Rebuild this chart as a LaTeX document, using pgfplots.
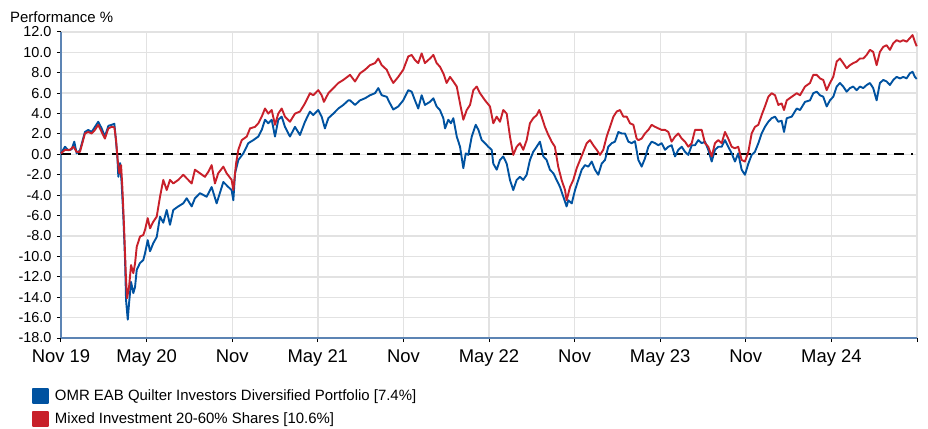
\documentclass[border=0pt]{standalone}
\usepackage{fontspec}
\setmainfont{Liberation Sans}
\usepackage{pgfplots}
\usepackage{pgfplotstable}
\pgfplotsset{compat=1.18}
\definecolor{cblue}{RGB}{0,82,160}
\definecolor{cred}{RGB}{200,32,42}
\definecolor{spine}{RGB}{92,132,180}
\definecolor{gridc}{RGB}{226,226,226}
\pgfplotstableread{
m v
0 0.1
0.28 0.75
0.51 0.4
0.75 0.5
0.93 1.25
1.10 0.1
1.33 0.4
1.68 2.2
1.91 2.4
2.15 2.2
2.38 2.7
2.61 3.2
2.85 2.55
3.08 1.75
3.32 2.8
3.55 2.9
3.74 3.0
3.83 1.7
3.95 -0.2
4.02 -2.2
4.14 -0.85
4.25 -2.8
4.37 -6.1
4.49 -10.35
4.56 -14.3
4.68 -16.2
4.77 -14.6
4.91 -12.5
5.07 -13.6
5.19 -13.0
5.31 -11.3
5.54 -10.65
5.77 -10.35
5.89 -9.7
6.08 -8.4
6.24 -9.5
6.47 -8.7
6.71 -8.1
6.94 -6.1
7.17 -6.7
7.41 -5.45
7.64 -6.9
7.87 -5.45
8.22 -5.1
8.57 -4.8
8.81 -4.3
9.16 -5.1
9.39 -4.3
9.74 -3.8
10.21 -4.15
10.56 -3.2
10.91 -4.8
11.38 -2.7
11.73 -3.2
11.96 -3.5
12.08 -4.5
12.20 -1.85
12.43 -0.55
12.78 0.1
13.13 1.1
13.48 1.4
13.83 1.75
14.07 2.4
14.30 3.4
14.53 3.05
14.77 3.4
15.00 1.75
15.23 3.4
15.47 3.7
15.70 2.7
16.05 1.75
16.40 2.7
16.75 1.9
17.10 3.2
17.45 4.2
17.68 3.85
18.03 4.35
18.27 3.7
18.50 2.55
18.74 3.55
19.09 4.0
19.44 4.5
19.79 4.85
20.14 5.3
20.26 5.3
20.61 4.85
20.96 5.3
21.31 5.5
21.66 5.8
22.01 6.0
22.24 6.5
22.48 5.8
22.83 5.65
23.06 5.0
23.29 4.4
23.64 4.7
23.99 5.3
24.34 6.3
24.58 6.15
24.81 5.3
25.04 4.5
25.28 5.8
25.51 4.85
25.86 5.15
26.10 5.5
26.33 4.7
26.56 4.35
26.80 3.55
26.92 2.55
27.15 3.4
27.33 3.05
27.50 3.55
27.74 1.75
27.97 0.75
28.20 -1.35
28.37 0.1
28.55 -0.05
28.79 1.75
29.07 2.9
29.26 2.4
29.49 1.4
29.72 1.1
29.95 0.75
30.19 0.45
30.30 -0.9
30.54 -1.5
30.77 -0.55
31.00 -0.2
31.24 -0.9
31.47 -2.5
31.70 -3.5
31.94 -2.5
32.17 -2.2
32.40 -2.5
32.64 -2.0
32.87 -0.55
33.10 0.25
33.34 0.75
33.57 1.25
33.81 -0.2
34.04 -0.55
34.27 -1.5
34.51 -1.85
34.74 -2.5
34.98 -3.2
35.21 -4.15
35.44 -5.1
35.56 -4.5
35.80 -4.8
36.03 -3.5
36.26 -2.5
36.50 -1.5
36.73 -1.05
36.96 -1.2
37.20 -0.7
37.43 -1.5
37.66 -2.0
37.90 -0.9
38.13 -0.55
38.36 0.75
38.60 1.1
38.83 1.25
39.07 2.2
39.30 2.05
39.53 2.05
39.77 1.25
40.00 1.1
40.23 1.3
40.47 -0.55
40.70 -1.2
40.93 -0.4
41.17 0.75
41.40 1.25
41.64 1.1
41.87 0.9
42.10 1.1
42.34 0.45
42.57 0.75
42.80 0.9
43.04 -0.2
43.27 0.45
43.51 0.75
43.74 0.25
43.97 -0.05
44.21 0.9
44.44 0.9
44.67 1.4
44.91 1.1
45.14 1.25
45.37 0.45
45.61 -0.7
45.84 0.45
46.07 0.75
46.31 0.75
46.54 1.4
46.77 0.75
47.01 0.1
47.24 -0.7
47.47 0.1
47.71 -1.5
47.94 -2.0
48.18 -0.9
48.41 -0.05
48.64 0.25
48.88 1.1
49.11 2.05
49.34 2.7
49.58 3.2
49.81 3.55
50.05 3.7
50.28 3.2
50.51 3.3
50.68 2.2
50.87 3.55
51.22 3.7
51.57 4.5
51.80 4.35
52.15 5.15
52.50 5.3
52.73 6.0
52.97 6.15
53.20 5.8
53.43 5.65
53.67 4.7
53.90 5.3
54.13 5.65
54.37 6.65
54.60 7.0
54.83 6.65
55.07 6.15
55.30 6.5
55.53 6.65
55.77 6.3
56.00 6.65
56.23 6.5
56.47 6.8
56.70 7.0
56.93 6.5
57.17 5.3
57.40 7.0
57.64 7.3
57.87 7.15
58.10 6.8
58.34 7.3
58.57 7.6
58.81 7.45
59.04 7.6
59.27 7.45
59.50 7.95
59.69 8.1
59.85 7.6
59.98 7.4
}\quilter
\pgfplotstableread{
m v
0 0.1
0.28 0.45
0.63 0.45
0.87 0.75
1.10 0.25
1.33 0.25
1.68 2.05
1.91 2.2
2.15 2.05
2.38 2.4
2.61 2.9
2.85 2.2
3.08 1.55
3.32 2.55
3.55 2.7
3.74 2.65
3.86 1.4
3.97 -0.55
4.09 -1.85
4.21 -1.05
4.30 -3.2
4.42 -7.1
4.54 -11.65
4.63 -14.1
4.77 -13.0
4.91 -10.85
5.07 -11.65
5.19 -10.7
5.31 -9.05
5.54 -8.05
5.77 -7.9
5.89 -7.4
6.08 -6.25
6.24 -7.25
6.47 -6.6
6.71 -6.1
6.94 -4.15
7.17 -2.5
7.41 -3.5
7.64 -2.5
7.87 -2.85
8.22 -2.5
8.57 -2.0
8.92 -2.5
9.16 -2.85
9.39 -1.5
9.74 -1.85
10.09 -2.2
10.33 -1.7
10.56 -1.05
10.79 -2.85
11.02 -1.85
11.38 -1.2
11.61 -1.85
11.96 -2.5
12.08 -3.5
12.27 -0.9
12.43 0.45
12.67 1.4
13.02 1.75
13.25 2.55
13.60 2.7
13.83 3.05
14.07 3.7
14.30 4.5
14.53 4.0
14.77 4.35
15.00 2.9
15.23 4.0
15.47 4.5
15.70 3.7
16.05 3.2
16.40 4.0
16.75 4.2
17.10 5.0
17.45 6.0
17.68 5.8
18.03 6.3
18.27 5.8
18.43 5.15
18.74 6.0
19.09 6.5
19.44 7.0
19.79 7.3
20.26 7.8
20.61 7.15
20.96 7.95
21.31 8.3
21.66 8.75
22.01 8.95
22.24 9.4
22.48 8.75
22.83 8.3
23.06 7.6
23.29 7.0
23.64 7.6
23.99 8.3
24.34 9.6
24.58 9.75
24.81 9.25
25.04 8.95
25.28 9.9
25.51 8.95
25.86 9.4
26.10 9.75
26.33 8.95
26.56 8.6
26.80 7.95
27.03 7.0
27.27 7.6
27.50 7.15
27.74 6.65
27.97 5.0
28.20 3.4
28.44 4.35
28.67 4.85
28.90 6.3
29.14 6.65
29.37 6.0
29.72 5.3
30.07 4.7
30.30 3.05
30.54 3.7
30.77 3.2
31.00 4.35
31.24 4.0
31.47 1.75
31.70 -0.05
31.94 0.75
32.17 1.1
32.40 0.45
32.64 1.4
32.87 3.05
33.10 3.55
33.34 3.85
33.52 4.35
33.69 3.7
33.92 2.7
34.16 1.9
34.39 1.25
34.62 0.75
34.85 -1.2
35.09 -2.5
35.33 -3.5
35.44 -4.5
35.68 -3.2
35.91 -2.5
36.15 -1.35
36.38 -0.55
36.61 0.25
36.85 1.1
37.08 1.4
37.31 0.9
37.55 0.45
37.78 -0.05
38.01 0.45
38.25 1.75
38.48 2.7
38.72 3.7
38.95 4.2
39.18 4.35
39.42 3.7
39.65 3.7
39.88 3.05
40.12 2.9
40.35 1.55
40.47 1.4
40.70 1.55
40.93 2.05
41.17 2.4
41.40 2.9
41.64 2.7
41.87 2.55
42.10 2.4
42.34 2.4
42.57 2.2
42.80 1.25
43.04 1.75
43.27 2.05
43.51 1.55
43.74 1.25
43.97 0.75
44.21 1.1
44.44 2.4
44.67 2.4
44.91 2.4
45.14 1.1
45.37 0.75
45.61 -0.2
45.84 1.1
46.07 1.4
46.31 1.1
46.54 2.2
46.77 1.55
47.01 0.75
47.24 0.6
47.47 0.75
47.71 -0.55
47.94 -0.7
48.18 0.25
48.41 2.05
48.64 2.7
48.88 2.9
49.11 3.85
49.34 4.7
49.58 5.65
49.81 6.0
50.05 5.8
50.28 4.85
50.51 5.0
50.68 4.35
50.87 5.3
51.22 5.65
51.57 6.0
51.80 5.8
52.15 6.65
52.50 7.0
52.73 7.8
52.97 7.8
53.20 7.45
53.43 7.3
53.67 6.3
53.90 7.0
54.13 7.6
54.37 9.1
54.60 9.4
54.83 8.95
55.07 8.45
55.30 8.75
55.53 8.95
55.77 9.1
56.00 9.4
56.23 9.4
56.47 9.75
56.70 10.25
56.93 10.05
57.17 8.75
57.40 10.05
57.64 10.55
57.87 10.7
58.10 10.25
58.34 10.9
58.57 11.2
58.81 11.05
59.04 11.2
59.27 11.05
59.50 11.4
59.69 11.7
59.85 11.05
59.98 10.6
}\mixed
\begin{document}
\begin{tikzpicture}
\useasboundingbox (-61bp,-91bp) rectangle (867bp,338bp);
\begin{axis}[
  scale only axis, width=856bp, height=306bp,
  xmin=0, xmax=60, ymin=-18, ymax=12,
  xtick={0,6,...,60},
  xticklabels={Nov 19,May 20,Nov,May 21,Nov,May 22,Nov,May 23,Nov,May 24,},
  ytick={-18,-16,...,12},
  yticklabels={-18.0,-16.0,-14.0,-12.0,-10.0,-8.0,-6.0,-4.0,-2.0,0.0,2.0,4.0,6.0,8.0,10.0,12.0},
  grid=major, major grid style={gridc, line width=1.4bp},
  axis x line*=bottom, axis y line*=left,
  axis line style={spine, line width=1.5bp},
  tick align=outside, major tick length=4bp,
  tick style={black, line width=1bp},
  yticklabel style={font=\fontsize{14.5}{16}\selectfont, xshift=-2bp},
  xticklabel style={font=\fontsize{18.5}{20}\selectfont, yshift=-4bp},
  legend style={at={(rel axis cs:-0.034,-0.162)}, anchor=north west, draw=none, fill=none,
    font=\fontsize{15}{17}\selectfont, row sep=6.8bp, inner sep=0pt, cells={anchor=west}},
  legend image code/.code={\fill[#1] (0bp,-7bp) rectangle (15bp,7bp); \path (19bp,0bp);},
  clip=false,
]
\addplot[black, line width=2bp, dash pattern=on 10bp off 7bp, forget plot] coordinates {(0,0) (59.7,0)};
\addplot[cblue, line width=1.9bp, line join=round] table[x=m, y=v] {\quilter};
\addlegendentry{OMR EAB Quilter Investors Diversified Portfolio [7.4\%]}
\addplot[cred, line width=1.9bp, line join=round] table[x=m, y=v] {\mixed};
\addlegendentry{Mixed Investment 20-60\% Shares [10.6\%]}
\end{axis}
\node[anchor=base west, font=\fontsize{15}{17}\selectfont, inner sep=0pt] at (-51bp,315.5bp) {Performance \%};
\end{tikzpicture}
\end{document}
